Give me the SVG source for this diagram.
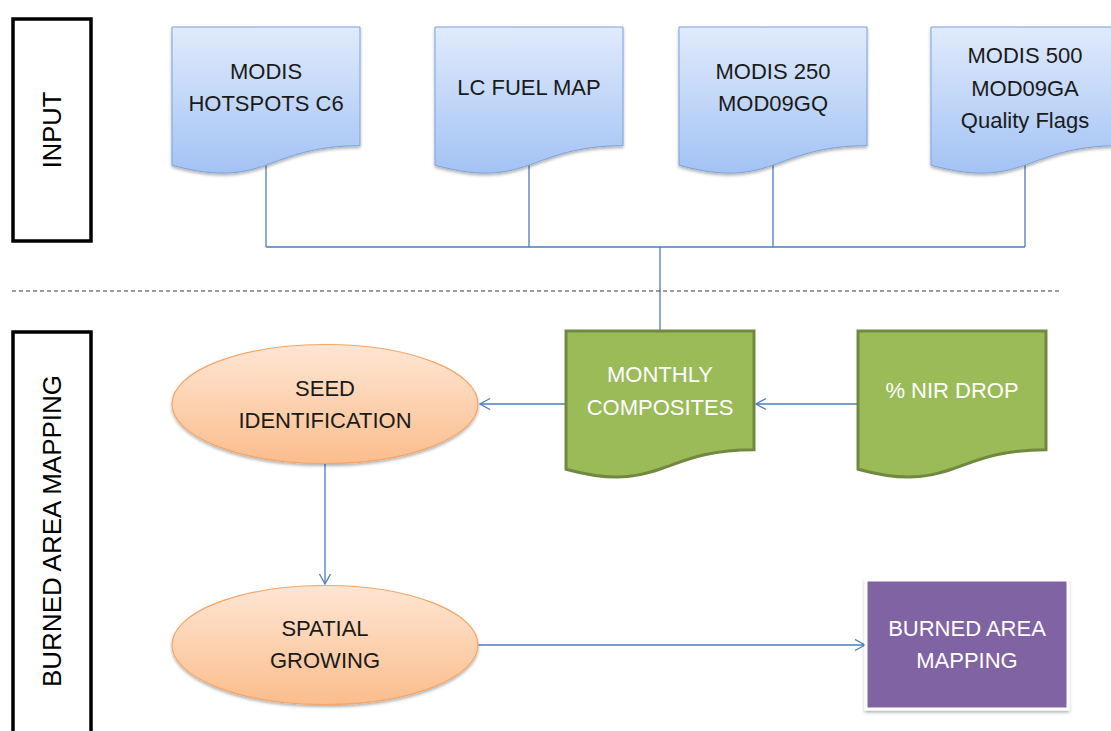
<svg xmlns="http://www.w3.org/2000/svg" width="1111" height="731" viewBox="0 0 1111 731">
<style>
text{font-family:"Liberation Sans",Arial,sans-serif;font-size:22px;text-anchor:middle}
.dk{fill:#1a1a1a}
.wt{fill:#ffffff}
.lane{fill:#ffffff;stroke:#000;stroke-width:3.5}
.lanetxt{font-size:25.5px;fill:#000}
.conn{fill:none;stroke:#4A7EBB;stroke-width:1.3}
.blue{fill:url(#gBlue);stroke:#7BA3DA;stroke-width:1;filter:url(#sh)}
.green{fill:#9BBB59;stroke:#71893F;stroke-width:3}
.orange{fill:url(#gOr);stroke:#F5A567;stroke-width:1.2;filter:url(#sh)}
</style>
<defs>
<linearGradient id="gBlue" x1="0" y1="0" x2="0" y2="1">
<stop offset="0" stop-color="#E0EBFC"/>
<stop offset="1" stop-color="#A3C2F4"/>
</linearGradient>
<linearGradient id="gOr" x1="0" y1="0" x2="0" y2="1">
<stop offset="0" stop-color="#FEE6D4"/>
<stop offset="1" stop-color="#FBBD8C"/>
</linearGradient>
<filter id="sh" x="-10%" y="-10%" width="120%" height="130%">
<feDropShadow dx="0" dy="2" stdDeviation="1.6" flood-color="#000" flood-opacity="0.3"/>
</filter>
<path id="doc" d="M0,0 H188 V118.7 C94,118.7 94,163.9 0,138.2 Z"/>
<marker id="arr" markerUnits="userSpaceOnUse" markerWidth="14" markerHeight="14" refX="11" refY="6" orient="auto">
<path d="M1,0.5 L11,6 L1,11.5" fill="none" stroke="#4A7EBB" stroke-width="1.3"/>
</marker>
</defs>

<g id="connectors">
<path class="conn" d="M266,160 V247 M529,160 V247 M773,160 V247 M1025,160 V247 M266,247 H1025 M660,247 V330"/>
<line class="conn" x1="857" y1="404" x2="756" y2="404" marker-end="url(#arr)"/>
<line class="conn" x1="566" y1="404" x2="480" y2="404" marker-end="url(#arr)"/>
<line class="conn" x1="325" y1="464" x2="325" y2="584" marker-end="url(#arr)"/>
<line class="conn" x1="478" y1="645" x2="865" y2="645" marker-end="url(#arr)"/>
<line x1="12" y1="291" x2="1060" y2="291" stroke="#3a3a3a" stroke-width="1.2" stroke-dasharray="4,3"/>
</g>

<g id="lane-input">
<rect class="lane" x="13" y="19" width="78" height="222"/>
<text class="lanetxt" transform="translate(61,130) rotate(-90)">INPUT</text>
</g>
<g id="lane-bam">
<rect class="lane" x="13" y="332" width="78" height="410"/>
<text class="lanetxt" font-size="26" style="font-size:26px" transform="translate(61,531) rotate(-90)">BURNED AREA MAPPING</text>
</g>

<g id="modis-hotspots">
<use href="#doc" class="blue" x="172" y="27"/>
<text class="dk" x="266" y="79">MODIS</text>
<text class="dk" x="266" y="111">HOTSPOTS C6</text>
</g>
<g id="lc-fuel-map">
<use href="#doc" class="blue" x="435" y="27"/>
<text class="dk" x="529" y="95">LC FUEL MAP</text>
</g>
<g id="modis-250">
<use href="#doc" class="blue" x="679" y="27"/>
<text class="dk" x="773" y="79">MODIS 250</text>
<text class="dk" x="773" y="111">MOD09GQ</text>
</g>
<g id="modis-500">
<use href="#doc" class="blue" x="931" y="27"/>
<text class="dk" x="1025" y="63">MODIS 500</text>
<text class="dk" x="1025" y="96">MOD09GA</text>
<text class="dk" x="1025" y="128">Quality Flags</text>
</g>

<g id="monthly-composites">
<use href="#doc" class="green" x="566" y="331"/>
<text class="wt" x="660" y="382">MONTHLY</text>
<text class="wt" x="660" y="415">COMPOSITES</text>
</g>
<g id="nir-drop">
<use href="#doc" class="green" x="858" y="331"/>
<text class="wt" x="952" y="398">% NIR DROP</text>
</g>

<g id="seed-identification">
<ellipse class="orange" cx="325" cy="404" rx="153" ry="59.5"/>
<text class="dk" x="325" y="396">SEED</text>
<text class="dk" x="325" y="428">IDENTIFICATION</text>
</g>
<g id="spatial-growing">
<ellipse class="orange" cx="325" cy="645" rx="153" ry="59.5"/>
<text class="dk" x="325" y="636">SPATIAL</text>
<text class="dk" x="325" y="668">GROWING</text>
</g>

<g id="burned-area-mapping">
<rect x="866" y="580" width="202" height="129" fill="#8064A2" stroke="#ffffff" stroke-width="3" filter="url(#sh)"/>
<text class="wt" x="967" y="636">BURNED AREA</text>
<text class="wt" x="967" y="668">MAPPING</text>
</g>
</svg>
